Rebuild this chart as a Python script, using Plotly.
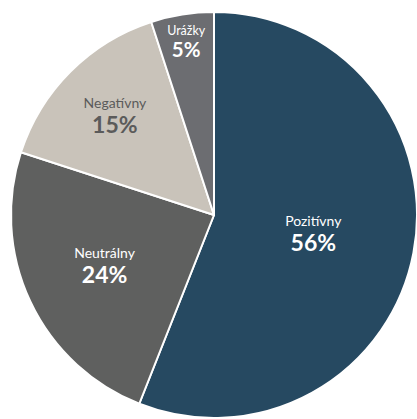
import plotly.graph_objects as go

labels = ["Pozitívny", "Neutrálny", "Negatívny", "Urážky"]
values = [56, 24, 15, 5]
colors = ["#264961", "#5f605f", "#c9c3ba", "#6c6d71"]
text_colors = ["#ffffff", "#ffffff", "#5b5b5b", "#ffffff"]

fig = go.Figure(go.Pie(
    labels=labels,
    values=values,
    sort=False,
    direction="clockwise",
    rotation=0,
    marker=dict(colors=colors, line=dict(color="#ffffff", width=2)),
    texttemplate="<span style='font-size:14px'>%{label}</span><br><span style='font-size:23px'><b>%{percent:.0%}</b></span>",
    textposition="inside",
    insidetextorientation="horizontal",
    insidetextfont=dict(family="Lato, Open Sans, sans-serif", size=19, color=text_colors),
    hoverinfo="label+percent",
    showlegend=False,
    domain=dict(x=[11/417, 1.0], y=[1/419, 1 - 12/419]),
))

fig.update_layout(
    width=417, height=419,
    margin=dict(l=0, r=0, t=0, b=0),
    paper_bgcolor="#ffffff",
    plot_bgcolor="#ffffff",
)

fig.write_html("out.html", config={"displayModeBar": False},
               post_script="document.body.style.margin='0';")
